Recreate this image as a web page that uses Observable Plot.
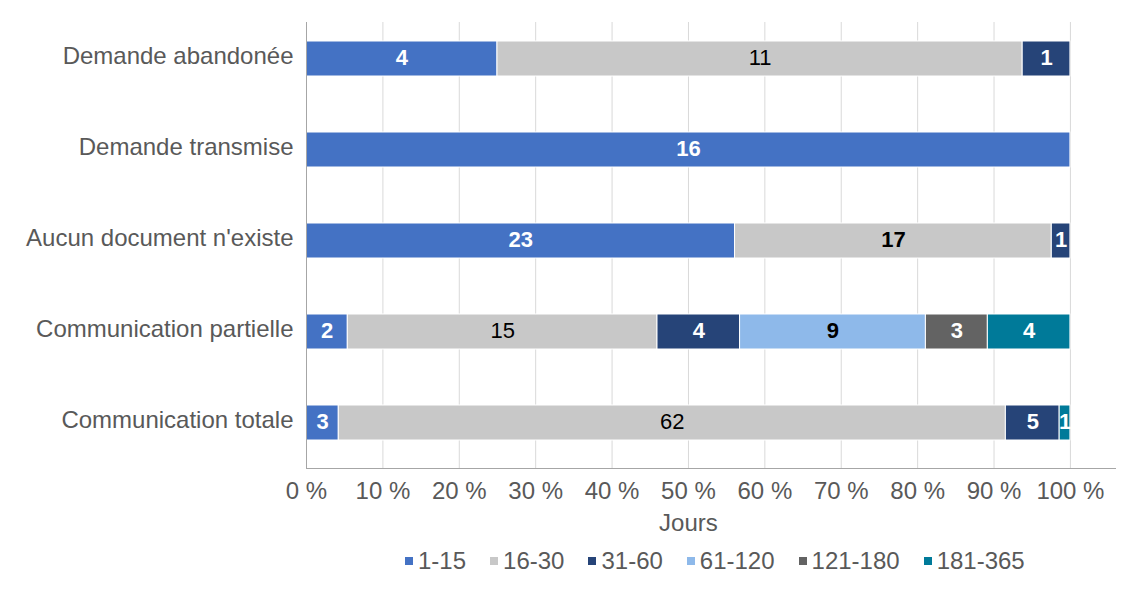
<!DOCTYPE html>
<html>
<head>
<meta charset="utf-8">
<script src="https://cdn.jsdelivr.net/npm/d3@7"></script>
<script src="https://cdn.jsdelivr.net/npm/@observablehq/plot@0.6"></script>
<style>
  body { margin: 0; background: #fff; font-family: "Liberation Sans", Arial, sans-serif; }
  #legend { display: flex; align-items: center; padding-left: 405px; height: 32px; margin-top: 0px;
            font-size: 24px; color: #595959; }
  .item { display: flex; align-items: center; margin-right: 24px; }
  .sw { width: 8px; height: 8px; margin-right: 5px; }
</style>
</head>
<body>
<div id="chart"></div>
<div id="legend"></div>
<script>
const categories = ["Demande abandonée", "Demande transmise", "Aucun document n'existe", "Communication partielle", "Communication totale"];
const seriesNames = ["1-15", "16-30", "31-60", "61-120", "121-180", "181-365"];
const s1_15    = [4, 16, 23, 2, 3];
const s16_30   = [11, 0, 17, 15, 62];
const s31_60   = [1, 0, 1, 4, 5];
const s61_120  = [0, 0, 0, 9, 0];
const s121_180 = [0, 0, 0, 3, 0];
const s181_365 = [0, 0, 0, 4, 1];
const xTicks = [0, 0.1, 0.2, 0.3, 0.4, 0.5, 0.6, 0.7, 0.8, 0.9, 1];
const xTickLabels = ["0 %", "10 %", "20 %", "30 %", "40 %", "50 %", "60 %", "70 %", "80 %", "90 %", "100 %"];
const xLabel = "Jours";

const colors = ["#4472C4", "#C8C8C8", "#264478", "#8EB9EA", "#636363", "#007A99"];
const textColors = ["white", "black", "white", "black", "white", "white"];

const seriesValues = [s1_15, s16_30, s31_60, s61_120, s121_180, s181_365];
const data = [];
seriesNames.forEach((s, si) => {
  categories.forEach((c, ci) => {
    const v = seriesValues[si][ci];
    if (v > 0) data.push({cat: c, series: s, value: v});
  });
});

const stackOpts = {x: "value", y: "cat", z: "series", offset: "normalize", order: seriesNames};
const isNormal = d => d.series === "16-30" && d.cat !== "Aucun document n'existe";
const labelFill = d => textColors[seriesNames.indexOf(d.series)];

const chart = Plot.plot({
  width: 1140,
  height: 545,
  marginLeft: 306,
  marginRight: 25,
  marginTop: 22,
  marginBottom: 77,
  style: {fontFamily: "'Liberation Sans', Arial, sans-serif", fontSize: "24px", color: "#595959", background: "white"},
  x: {domain: [0, 1.059]},
  y: {domain: categories, paddingInner: 0.6175, paddingOuter: 0.2459, align: 0.4},
  color: {domain: seriesNames, range: colors},
  marks: [
    Plot.gridX(xTicks, {stroke: "#D9D9D9", strokeOpacity: 1}),
    Plot.barX(data, Plot.stackX({...stackOpts, fill: "series", stroke: "white", strokeWidth: 1})),
    Plot.frame({anchor: "left", stroke: "#A6A6A6"}),
    Plot.frame({anchor: "bottom", stroke: "#A6A6A6"}),
    Plot.axisY({tickSize: 0, tickPadding: 13, label: null, fill: "#595959", fontSize: 24, dy: -3}),
    Plot.axisX({ticks: xTicks, tickFormat: (d, i) => xTickLabels[i], tickSize: 0, tickPadding: 13, label: null, fill: "#595959", fontSize: 24}),
    Plot.text([xLabel], {x: () => 0.5, text: d => d, frameAnchor: "bottom", dy: 62, fill: "#595959", fontSize: 24}),
    Plot.text(data, Plot.stackX({...stackOpts,
      text: d => isNormal(d) ? "" : String(d.value), fill: labelFill, fontWeight: "bold", fontSize: 22, dy: -1})),
    Plot.text(data, Plot.stackX({...stackOpts,
      text: d => isNormal(d) ? String(d.value) : "", fill: labelFill, fontSize: 22, dy: -1}))
  ]
});
document.getElementById("chart").appendChild(chart);

const legend = document.getElementById("legend");
seriesNames.forEach((s, i) => {
  const it = document.createElement("div");
  it.className = "item";
  const sw = document.createElement("span");
  sw.className = "sw";
  sw.style.background = colors[i];
  const t = document.createElement("span");
  t.textContent = s;
  it.appendChild(sw); it.appendChild(t);
  legend.appendChild(it);
});
</script>
</body>
</html>
